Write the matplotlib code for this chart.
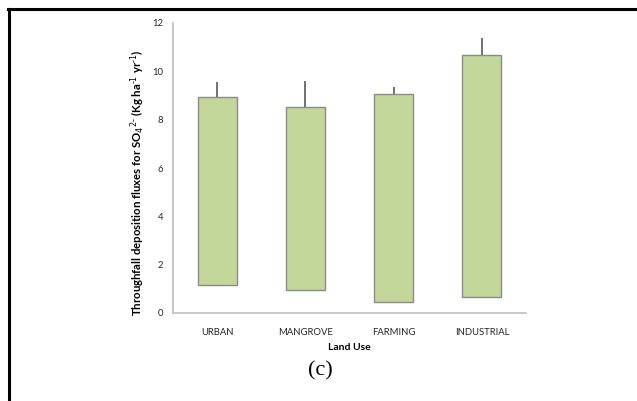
import matplotlib
matplotlib.use("Agg")
import numpy as np
from matplotlib import pyplot as plt
from matplotlib.lines import Line2D

# SO4 throughfall deposition per land use: bar runs from low to high, error bar above
land_use = ["URBAN", "MANGROVE", "FARMING", "INDUSTRIAL"]
flux_low = [1.16, 0.95, 0.47, 0.65]
flux_high = [8.95, 8.51, 9.06, 10.67]
err_up = [0.62, 1.09, 0.29, 0.71]

W, H = 637, 401
fig = plt.figure(figsize=(W / 100, H / 100), dpi=100)
fig.patch.set_facecolor("white")

ax = fig.add_axes([173 / W, 1 - 313 / H, 353 / W, 290 / H])

x = np.arange(len(land_use))
heights = np.array(flux_high) - np.array(flux_low)
ax.bar(x, heights, bottom=flux_low, width=0.44, color="#c4d79b",
       edgecolor="#8a8a8a", linewidth=1.0, zorder=2)
ax.errorbar(x, flux_high, yerr=[np.zeros(len(x)), err_up], fmt="none",
            ecolor="#595959", elinewidth=1.2, capsize=0, zorder=1)

ax.set_xlim(-0.5, len(land_use) - 0.5)
ax.set_ylim(0, 12)
ax.set_yticks(range(0, 13, 2))
ax.set_xticks(x)
ax.set_xticklabels(land_use)
ax.tick_params(axis="both", length=0, labelsize=6.8, labelcolor="#262626",
               pad=7)
ax.tick_params(axis="x", pad=11)
for lab in ax.get_xticklabels() + ax.get_yticklabels():
    lab.set_family("Lato")
for s in ["top", "right"]:
    ax.spines[s].set_visible(False)
for s in ["left", "bottom"]:
    ax.spines[s].set_color("#bfbfbf")
    ax.spines[s].set_linewidth(1.2)

fig.text(138 / W, 1 - 183 / H,
         r"Throughfall deposition fluxes for SO$_4$$^{2\text{-}}$ (Kg ha$^{\text{-}1}$ yr$^{\text{-}1}$)",
         rotation=90, ha="center", va="center", fontsize=8.2,
         fontweight="bold", family="Lato")
fig.text(349 / W, 1 - 347 / H, "Land Use", ha="center", va="center",
         fontsize=7.5, fontweight="bold", family="Lato")
fig.text(320 / W, 1 - 371 / H, "(c)", ha="center", va="center",
         fontsize=16, family="Liberation Serif")

# page border lines
fig.add_artist(Line2D([8 / W, 1], [1 - 8.5 / H, 1 - 8.5 / H], color="black",
                      linewidth=2.2, transform=fig.transFigure))
fig.add_artist(Line2D([8.7 / W, 8.7 / W], [0, 1 - 8.5 / H], color="black",
                      linewidth=2.2, transform=fig.transFigure))

fig.savefig("out.png", dpi=100)
